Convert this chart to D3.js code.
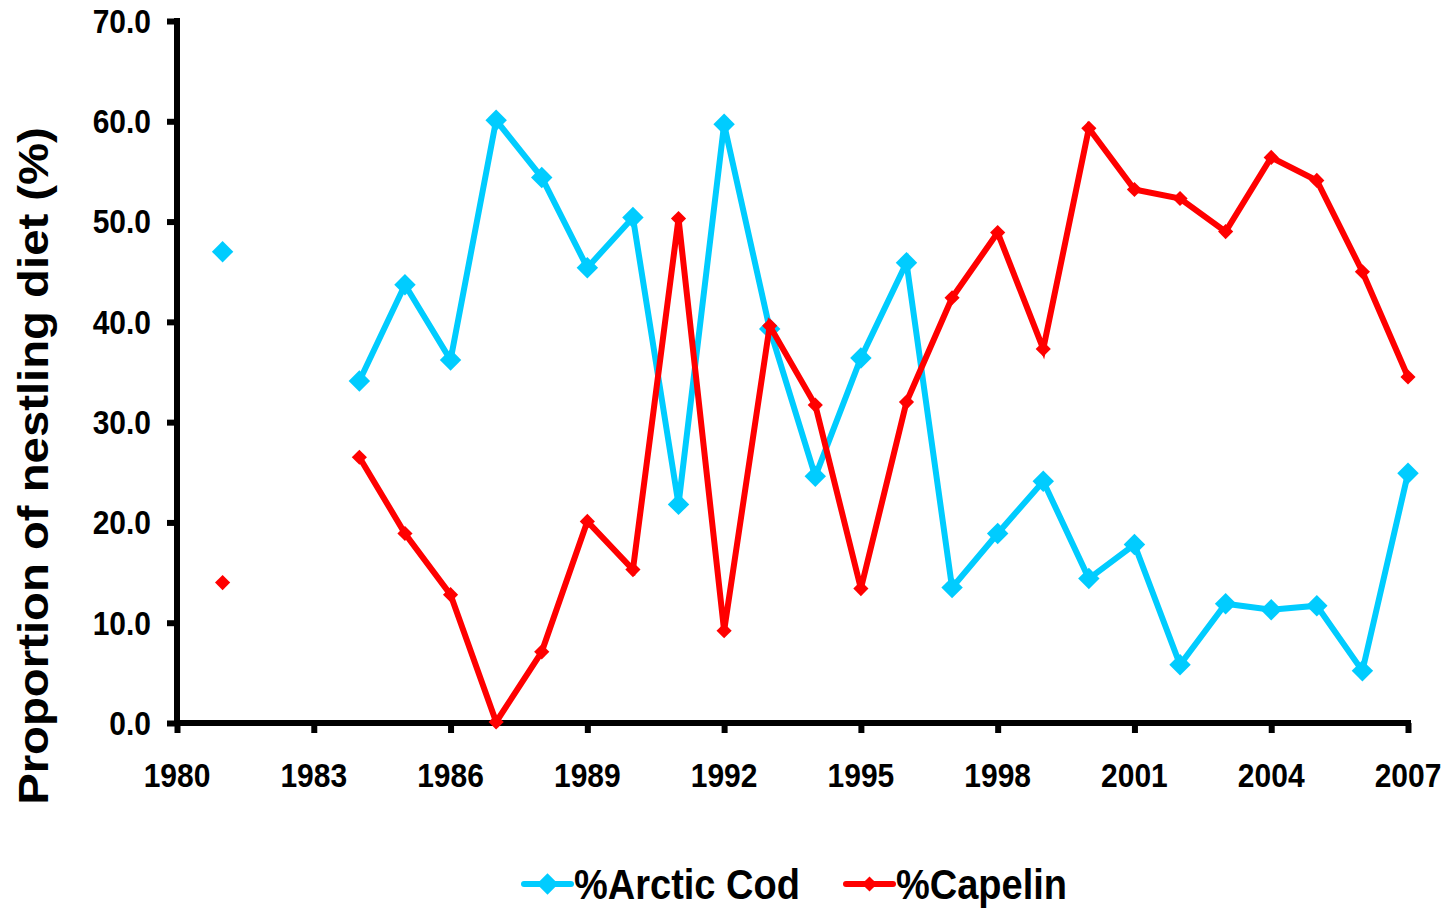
<!DOCTYPE html>
<html>
<head>
<meta charset="utf-8">
<script src="https://cdn.jsdelivr.net/npm/d3@7"></script>
<style>
  body { margin: 0; background: #fff; }
  text { font-family: "Liberation Sans", Arial, sans-serif; font-weight: bold; fill: #000; }
</style>
</head>
<body>
<div id="chart"></div>
<script>
// Nestling diet data (null = no sample that year)
let years = [1981, 1982, 1983, 1984, 1985, 1986, 1987, 1988, 1989, 1990,
  1991, 1992, 1993, 1994, 1995, 1996, 1997, 1998, 1999, 2000,
  2001, 2002, 2003, 2004, 2005, 2006, 2007];
let arcticCod = [47.0, null, null, 34.1, 43.7, 36.2, 60.1, 54.4, 45.4, 50.4,
  21.8, 59.7, 39.3, 24.6, 36.4, 45.9, 13.5, 18.9, 24.1, 14.4,
  17.8, 5.8, 11.9, 11.3, 11.7, 5.2, 24.9];
let capelin = [14.0, null, null, 26.5, 18.9, 12.8, 0.1, 7.1, 20.1, 15.3,
  50.3, 9.2, 39.6, 31.7, 13.4, 32.0, 42.4, 48.9, 37.3, 59.3,
  53.2, 52.3, 49.0, 56.4, 54.1, 45.0, 34.5];
let xTicks = [1980, 1983, 1986, 1989, 1992, 1995, 1998, 2001, 2004, 2007];
let yTicks = [0, 10, 20, 30, 40, 50, 60, 70];
let seriesNames = ["%Arctic Cod", "%Capelin"];

let width = 1450, height = 912;
let stretch = 1.1;   // text in the figure is a little taller than wide

let svg = d3.select("#chart")
  .append("svg")
  .attr("width", width)
  .attr("height", height);

let xScale = d3.scaleLinear().domain([1980, 2007]).range([177, 1408]);
let yScale = d3.scaleLinear().domain([0, 70]).range([723, 21]);

let series = [
  { name: seriesNames[0], values: arcticCod, color: "#00CCFF", size: 230 },
  { name: seriesNames[1], values: capelin, color: "#FF0000", size: 115 }
];

// axes
let xAxis = d3.axisBottom(xScale).tickValues(xTicks).tickSize(10).tickFormat("");
let yAxis = d3.axisLeft(yScale).tickValues(yTicks).tickSize(10).tickFormat("");

svg.append("g")
  .attr("transform", `translate(0,${yScale(0)})`)
  .call(xAxis)
  .call(g => g.select(".domain").attr("d", `M${xScale(1980) - 3},0H${xScale(2007) + 3}`))
  .call(g => g.selectAll("path, line").attr("stroke", "#000").attr("stroke-width", 6));

svg.append("g")
  .attr("transform", `translate(${xScale(1980)},0)`)
  .call(yAxis)
  .call(g => g.select(".domain").attr("d", `M0,${yScale(70) - 3}V${yScale(0) + 3}`))
  .call(g => g.selectAll("path, line").attr("stroke", "#000").attr("stroke-width", 6));

// tick labels
svg.append("g")
  .selectAll("text")
  .data(xTicks)
  .enter()
  .append("text")
  .attr("transform", d => `translate(${xScale(d)},787) scale(1,${stretch})`)
  .attr("text-anchor", "middle")
  .style("font-size", "30px")
  .text(d => d);

svg.append("g")
  .selectAll("text")
  .data(yTicks)
  .enter()
  .append("text")
  .attr("transform", d => `translate(151,${yScale(d)}) scale(1,${stretch})`)
  .attr("text-anchor", "end")
  .attr("dy", "0.36em")
  .style("font-size", "30px")
  .text(d => d.toFixed(1));

// y title
svg.append("text")
  .attr("transform", `translate(48,466) rotate(-90) scale(${stretch},1)`)
  .attr("text-anchor", "middle")
  .style("font-size", "43px")
  .text("Proportion of nestling diet (%)");

// lines and markers
let line = d3.line()
  .defined(d => d[1] != null)
  .x(d => xScale(d[0]))
  .y(d => yScale(d[1]));

series.forEach(function (s) {
  let pts = years.map((y, i) => [y, s.values[i]]);
  svg.append("path")
    .datum(pts)
    .attr("d", line)
    .attr("fill", "none")
    .attr("stroke", s.color)
    .attr("stroke-width", 6)
    .attr("stroke-linejoin", "miter");

  svg.append("g")
    .selectAll("path")
    .data(pts.filter(d => d[1] != null))
    .enter()
    .append("path")
    .attr("d", d3.symbol(d3.symbolSquare, s.size))
    .attr("transform", d => `translate(${xScale(d[0])},${yScale(d[1])}) rotate(45)`)
    .attr("fill", s.color);
});

// legend
let legendX = [524, 846];
let legend = svg.append("g")
  .selectAll("g")
  .data(series)
  .enter()
  .append("g")
  .attr("transform", (d, i) => `translate(${legendX[i]},884)`);

legend.append("line")
  .attr("x1", 0).attr("x2", 47)
  .attr("stroke", d => d.color)
  .attr("stroke-width", 6)
  .attr("stroke-linecap", "round");

legend.append("path")
  .attr("d", d => d3.symbol(d3.symbolSquare, d.size)())
  .attr("transform", "translate(23.5,0) rotate(45)")
  .attr("fill", d => d.color);

legend.append("text")
  .attr("transform", `translate(50,0) scale(1,${stretch})`)
  .attr("dy", "0.36em")
  .style("font-size", "38px")
  .text(d => d.name);
</script>
</body>
</html>
